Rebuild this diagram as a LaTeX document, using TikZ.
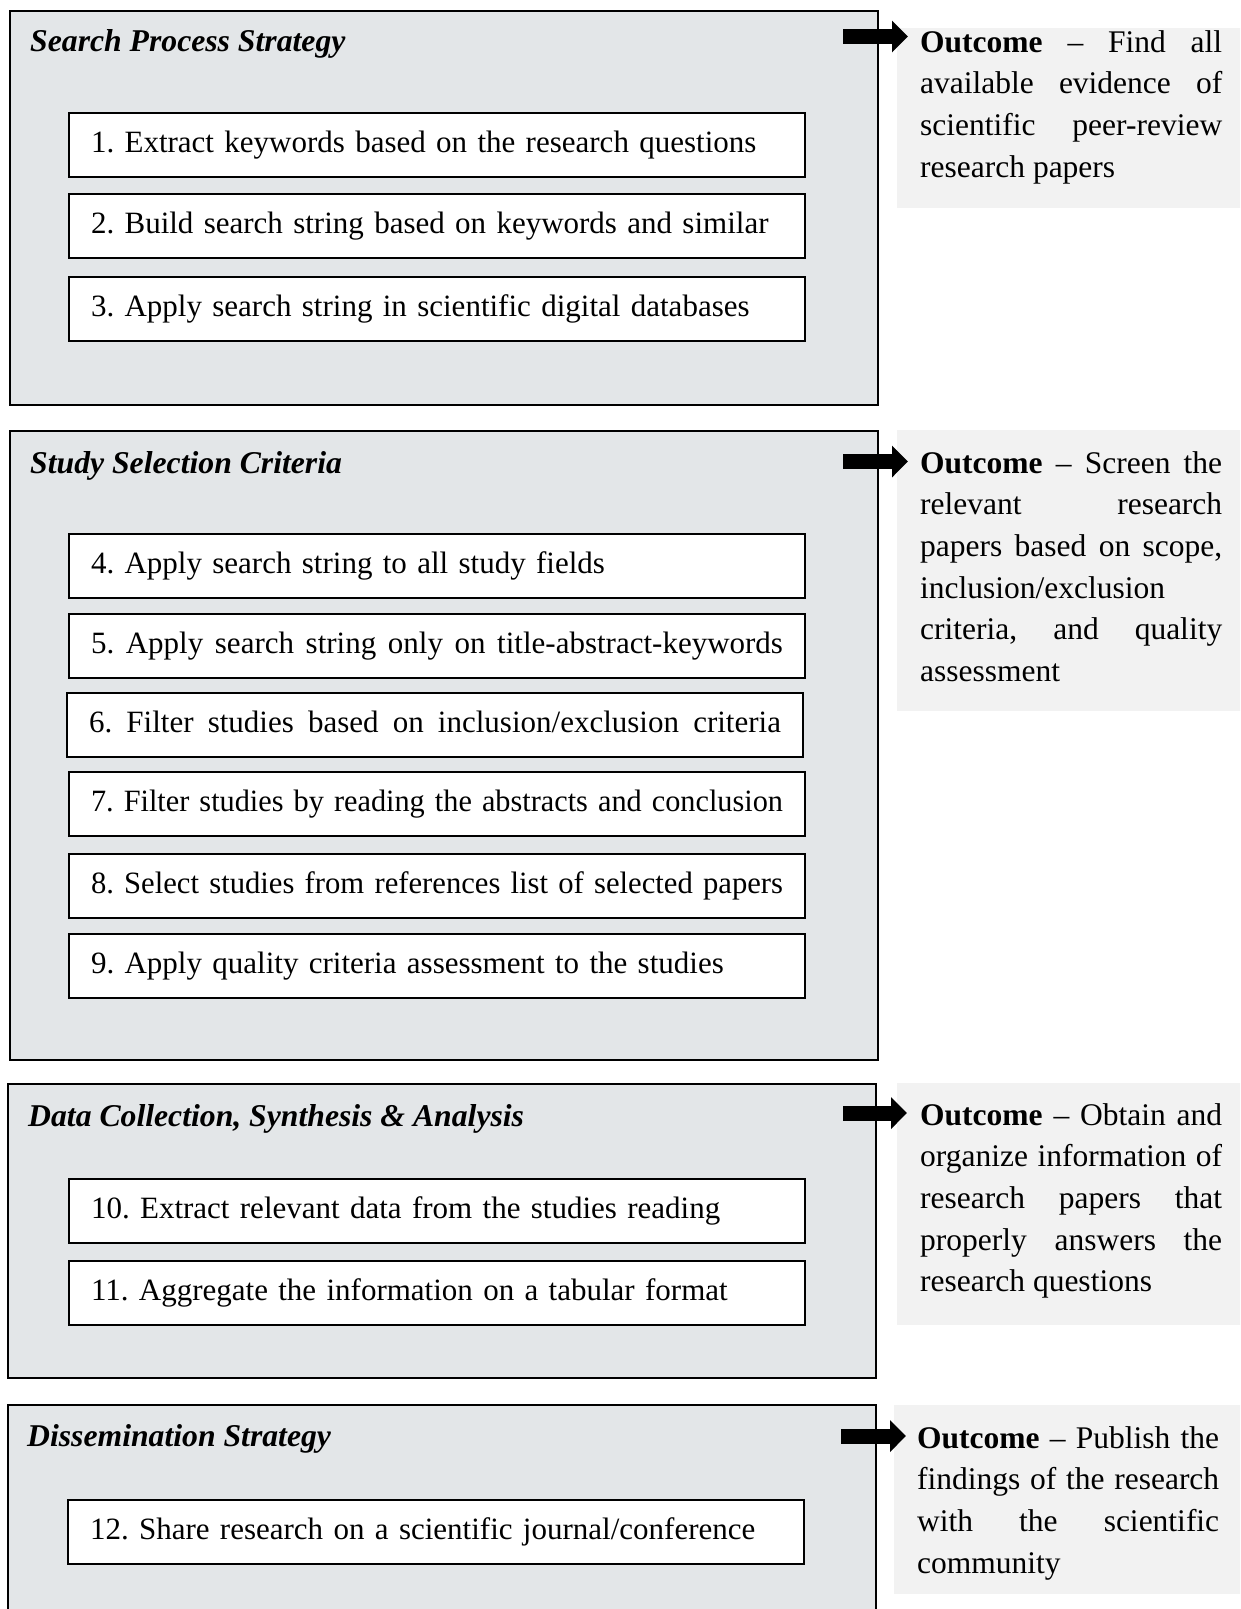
\documentclass[tikz,border=0pt]{standalone}
\usepackage{fontspec}
\setmainfont{Liberation Serif}
\usetikzlibrary{arrows.meta}
\definecolor{panelgray}{HTML}{E3E6E8}
\definecolor{outgray}{HTML}{F2F2F2}
\newcommand{\fitline}[1]{\setbox0=\hbox{#1}\ifdim\wd0>692pt \resizebox{692pt}{\height}{#1}\else\hbox to 692pt{\spaceskip=\fontdimen2\font plus 1fil\relax #1}\fi}
\newcommand{\nohy}{\hyphenpenalty=10000\exhyphenpenalty=10000 }
\begin{document}
\begin{tikzpicture}[x=1pt,y=-1pt,
  every node/.style={font=\fontsize{31.5}{41.7}\selectfont, execute at begin node=\frenchspacing\nohy},
  panel/.style={draw, line width=2.2pt, fill=panelgray, minimum width=868pt, anchor=north west, inner sep=0},
  ptitle/.style={anchor=base west, inner sep=0, font=\fontsize{31.7}{41.7}\selectfont\bfseries\itshape},
  stepbox/.style={draw, line width=2pt, fill=white, anchor=north west, minimum height=64pt,
    font=\fontsize{31}{41.7}\selectfont,
    text width=692pt, align=left, inner xsep=22pt, inner ysep=0pt, text height=22pt, text depth=7pt},
  outbox/.style={fill=outgray, anchor=north west, minimum width=350pt, inner sep=0},
  outtext/.style={anchor=base west, inner sep=0, text width=302pt, align=justify},
  bigarrow/.style={line width=15pt, -{Triangle[length=16pt,width=31pt]}}
]
\useasboundingbox (0,0) rectangle (1240,1609);
\clip (0,0) rectangle (1240,1609);

% Panels
\node[panel, minimum height=394pt] (p1) at (9,10) {};
\node[panel, minimum height=629pt] (p2) at (9,430) {};
\node[panel, minimum height=294pt] (p3) at (7,1083) {};
\node[panel, minimum height=260pt] (p4) at (7,1404) {};

% Titles
\node[ptitle] (t1) at (30,51) {Search Process Strategy};
\node[ptitle] (t2) at (30,473) {Study Selection Criteria};
\node[ptitle] (t3) at (28,1126) {Data Collection, Synthesis \& Analysis};
\node[ptitle] (t4) at (27,1446) {Dissemination Strategy};

% Steps
\node[stepbox] (b1) at (68,112) {1. Extract keywords based on the research questions};
\node[stepbox] (b2) at (68,193) {2. Build search string based on keywords and similar};
\node[stepbox] (b3) at (68,276) {3. Apply search string in scientific digital databases};
\node[stepbox] (b4) at (68,533) {4. Apply search string to all study fields};
\node[stepbox] (b5) at (68,613) {\fitline{5. Apply search string only on title-abstract-keywords}};
\node[stepbox] (b6) at (66,692) {\fitline{6. Filter studies based on inclusion/exclusion criteria}};
\node[stepbox] (b7) at (68,771) {\fitline{7. Filter studies by reading the abstracts and conclusion}};
\node[stepbox] (b8) at (68,853) {\fitline{8. Select studies from references list of selected papers}};
\node[stepbox] (b9) at (68,933) {9. Apply quality criteria assessment to the studies};
\node[stepbox] (b10) at (68,1178) {10. Extract relevant data from the studies reading};
\node[stepbox] (b11) at (68,1260) {11. Aggregate the information on a tabular format};
\node[stepbox] (b12) at (67,1499) {12. Share research on a scientific journal/conference};

% Outcome boxes
\node[outbox, minimum height=180pt] (o1) at (897,28) {};
\node[outbox, minimum height=281pt] (o2) at (897,430) {};
\node[outbox, minimum height=242pt] (o3) at (897,1083) {};
\node[outbox, minimum height=189pt] (o4) at (894,1405) {};

\node[outtext] (ot1) at (920,52) {\textbf{Outcome} – Find all\linebreak available evidence of\linebreak scientific peer-review\linebreak research papers};
\node[outtext] (ot2) at (920,473) {\textbf{Outcome} – Screen the\linebreak relevant research\linebreak papers based on scope,\linebreak inclusion/exclusion\linebreak criteria, and quality\linebreak assessment};
\node[outtext] (ot3) at (920,1125) {\textbf{Outcome} – Obtain and\linebreak organize information of\linebreak research papers that\linebreak properly answers the\linebreak research questions};
\node[outtext] (ot4) at (917,1448) {\textbf{Outcome} – Publish the\linebreak findings of the research\linebreak with the scientific\linebreak community};

% Arrows
\coordinate (a1s) at (843,36.5);
\coordinate (a1e) at (908,36.5);
\coordinate (a2s) at (843,461.5);
\coordinate (a2e) at (908,461.5);
\coordinate (a3s) at (843,1113);
\coordinate (a3e) at (907,1113);
\coordinate (a4s) at (841,1436);
\coordinate (a4e) at (906,1436);
\draw[bigarrow] (a1s) -- (a1e);
\draw[bigarrow] (a2s) -- (a2e);
\draw[bigarrow] (a3s) -- (a3e);
\draw[bigarrow] (a4s) -- (a4e);
\end{tikzpicture}
\end{document}
